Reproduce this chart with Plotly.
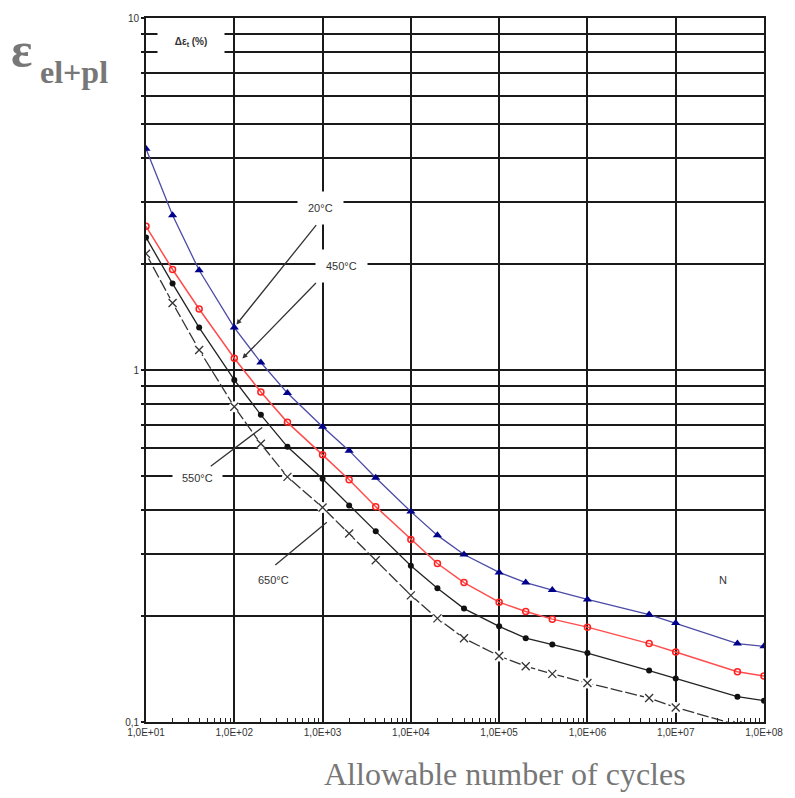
import plotly.graph_objects as go

cycles = [10, 20, 40, 100, 200, 400, 1000, 2000, 4000, 1e4, 2e4, 4e4,
          1e5, 2e5, 4e5, 1e6, 5e6, 1e7, 5e7, 1e8]

strain_20 = [4.25, 2.75, 1.92, 1.32, 1.05, 0.86, 0.69, 0.59, 0.494, 0.396, 0.339, 0.299,
             0.266, 0.249, 0.237, 0.223, 0.202, 0.191, 0.167, 0.164]
strain_450 = [2.56, 1.93, 1.49, 1.08, 0.866, 0.71, 0.574, 0.488, 0.409, 0.330, 0.282, 0.249,
              0.219, 0.206, 0.196, 0.186, 0.167, 0.158, 0.139, 0.135]
strain_550 = [2.38, 1.76, 1.32, 0.937, 0.746, 0.605, 0.491, 0.412, 0.348, 0.278, 0.240, 0.210,
              0.187, 0.173, 0.166, 0.157, 0.140, 0.133, 0.118, 0.115]
strain_650 = [2.14, 1.55, 1.14, 0.786, 0.617, 0.497, 0.407, 0.343, 0.288, 0.229, 0.197, 0.173,
              0.154, 0.144, 0.137, 0.129, 0.117, 0.110, 0.098, 0.094]

x_tick_vals = [1e1, 1e2, 1e3, 1e4, 1e5, 1e6, 1e7, 1e8]
x_tick_text = ["1,0E+01", "1,0E+02", "1,0E+03", "1,0E+04", "1,0E+05", "1,0E+06", "1,0E+07", "1,0E+08"]
y_labels = {0.1: "0,1", 1: "1", 10: "10"}

decades = [1, 10, 100, 1000, 10000, 100000, 1000000, 10000000]
x_minor = [m * d for d in decades for m in range(2, 10)]
y_grid = [round(m * d, 3) for d in [0.1, 1] for m in range(1, 10)] + [10]
y_text = [y_labels.get(v, "") for v in y_grid]

fig = go.Figure()

fig.add_trace(go.Scatter(x=cycles, y=strain_650, mode="lines",
                         line=dict(color="#333333", width=1.3, dash="12px,3px")))
fig.add_trace(go.Scatter(x=cycles, y=strain_650, mode="markers",
                         marker=dict(symbol="circle", size=11, color="white")))
fig.add_trace(go.Scatter(x=cycles, y=strain_650, mode="markers",
                         marker=dict(symbol="x-thin-open", size=8, color="#333333",
                                     line=dict(color="#333333", width=1.3))))
fig.add_trace(go.Scatter(x=cycles, y=strain_550, mode="lines+markers",
                         line=dict(color="#222222", width=1.3),
                         marker=dict(symbol="circle", size=6, color="#111111")))
fig.add_trace(go.Scatter(x=cycles, y=strain_450, mode="lines+markers",
                         line=dict(color="#ff4d4d", width=1.5),
                         marker=dict(symbol="circle-open", size=6, color="#ff2020",
                                     line=dict(color="#ff2020", width=1.5))))
fig.add_trace(go.Scatter(x=cycles, y=strain_20, mode="lines+markers",
                         line=dict(color="#4b4ba6", width=1.3),
                         marker=dict(symbol="triangle-up", size=8, color="#00008b")))

tick_font = dict(family="Liberation Sans, Arial, sans-serif", size=10, color="#333333")
label_font = dict(family="Liberation Sans, Arial, sans-serif", size=11, color="#333333")

fig.update_layout(
    width=795, height=798,
    margin=dict(l=146, r=27, t=17, b=76),
    paper_bgcolor="white", plot_bgcolor="white",
    showlegend=False,
    xaxis=dict(type="log", range=[1, 8], tickvals=x_tick_vals, ticktext=x_tick_text,
               tickfont=tick_font, showgrid=True, gridcolor="#1a1a1a", gridwidth=1.8,
               showline=True, linecolor="#1a1a1a", linewidth=1.8, mirror=True,
               ticks="", zeroline=False,
               minor=dict(tickvals=x_minor, ticks="inside", ticklen=4,
                          tickcolor="#222222", tickwidth=1.2, showgrid=False)),
    yaxis=dict(type="log", range=[-1, 1], tickvals=y_grid, ticktext=y_text,
               tickfont=tick_font, showgrid=True, gridcolor="#1a1a1a", gridwidth=1.8,
               showline=True, linecolor="#1a1a1a", linewidth=1.8, mirror=True,
               ticks="outside", ticklen=3, tickcolor="#1a1a1a", tickwidth=1.8,
               zeroline=False),
)


def px(xp, yp):
    return (xp - 146) / 622, (722 - yp) / 705


annots = []
# temperature labels
for text, xp, yp, pad in [("20°C", 322, 207, 10), ("450°C", 343, 265, 10), ("550°C", 198, 478, 9),
                          ("650°C", 274, 580, 3), ("N", 727, 580, 0)]:
    x, y = px(xp, yp)
    annots.append(dict(x=x, y=y, xref="paper", yref="paper", text=text, showarrow=False,
                       xanchor="center", yanchor="middle",
                       font=label_font, bgcolor="white" if text != "N" else None, borderpad=pad))

# leader lines
for head, tail, head_style in [((237, 324), (318, 223), 2), ((243, 358), (318, 281), 2),
                               ((263, 427), (210, 467), 0), ((328, 522), (275, 566), 0)]:
    x, y = px(*head)
    annots.append(dict(x=x, y=y, xref="paper", yref="paper", text="", showarrow=True,
                       ax=tail[0] - head[0], ay=tail[1] - head[1], axref="pixel", ayref="pixel",
                       arrowhead=head_style, arrowsize=0.8, arrowwidth=1.3, arrowcolor="#333333"))

# legend box
x, y = px(191, 41)
annots.append(dict(x=x, y=y, xref="paper", yref="paper", xanchor="center", yanchor="middle",
                   text="<b>Δε<sub>t</sub> (%)</b>", showarrow=False, font=dict(
                       family="Liberation Sans, Arial, sans-serif", size=10, color="#333333"),
                   bgcolor="white", width=66, height=36, borderpad=0))

# axis titles
title_font = "Liberation Serif, Times New Roman, serif"
x, y = px(8, 79)
annots.append(dict(x=x, y=y, xref="paper", yref="paper", text="<b>ε</b>", showarrow=False,
                   xanchor="left", yanchor="bottom",
                   font=dict(family=title_font, size=50, color="#777777")))
x, y = px(37, 91)
annots.append(dict(x=x, y=y, xref="paper", yref="paper", text="<b>el+pl</b>", showarrow=False,
                   xanchor="left", yanchor="bottom",
                   font=dict(family=title_font, size=32, color="#777777")))
x, y = px(507, 794)
annots.append(dict(x=x, y=y, xref="paper", yref="paper", text="Allowable number of cycles",
                   showarrow=False, xanchor="center", yanchor="bottom",
                   font=dict(family=title_font, size=32, color="#777777")))

fig.update_layout(annotations=annots)

x0, y0 = px(172, 26)
x1, _ = px(193, 26)
fig.add_shape(type="line", xref="paper", yref="paper", x0=x0, x1=x1, y0=y0, y1=y0,
              line=dict(color="#333333", width=1.5))

fig.write_html("out.html", config={"displayModeBar": False},
               post_script="document.body.style.margin='0';")
